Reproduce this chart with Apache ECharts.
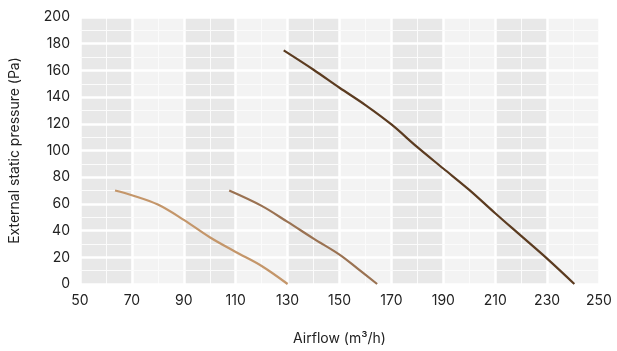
<!DOCTYPE html>
<html>
<head>
<meta charset="utf-8">
<script src="https://cdn.jsdelivr.net/npm/echarts@6/dist/echarts.min.js"></script>
<style>
html,body{margin:0;padding:0;background:#fff;}
#chart{width:617px;height:351px;}
</style>
</head>
<body>
<div id="chart"></div>
<script>
var xTickValues = [50, 70, 90, 110, 130, 150, 170, 190, 210, 230, 250];
var yTickValues = [0, 20, 40, 60, 80, 100, 120, 140, 160, 180, 200];

var series1Airflow = [63.5, 70, 80, 90, 100, 110, 120, 130];
var series1Pressure = [70, 66.5, 59.5, 48, 35, 24, 13.5, 0];

var series2Airflow = [107.5, 120, 130, 140, 150, 157, 164.5];
var series2Pressure = [70, 58.5, 46.5, 34, 22, 11.5, 0];

var series3Airflow = [128.5, 140, 150, 160, 170, 180, 190, 200, 210, 220, 230, 240.5];
var series3Pressure = [175, 160.5, 147, 134, 119.5, 102.5, 86.5, 70.5, 53, 36, 19, 0];

function pairs(xs, ys) { return xs.map(function (x, i) { return [x, ys[i]]; }); }

var chart = echarts.init(document.getElementById('chart'), null, { renderer: 'canvas' });
var font = 'Inter';
function mkSeries(name, xs, ys, color) {
  return {
    name: name, type: 'line', data: pairs(xs, ys), smooth: 0.35,
    showSymbol: false, symbol: 'none',
    lineStyle: { color: color, width: 2.2 }, z: 5
  };
}
chart.setOption({
  animation: false,
  backgroundColor: '#ffffff',
  grid: { left: 80, right: 18, top: 17, bottom: 67, containLabel: false },
  xAxis: {
    type: 'value', min: xTickValues[0], max: xTickValues[xTickValues.length - 1], interval: 20,
    name: 'Airflow (m³/h)', nameLocation: 'middle', nameGap: 48,
    nameTextStyle: { fontFamily: font, fontSize: 14, color: '#222' },
    axisLine: { show: false }, axisTick: { show: false },
    axisLabel: { fontFamily: font, fontSize: 14, color: '#222', margin: 10 },
    splitLine: { show: true, lineStyle: { color: '#ffffff', width: 2.5 } },
    minorTick: { show: false, splitNumber: 2 },
    minorSplitLine: { show: true, lineStyle: { color: '#fbfbfb', width: 1 } },
    splitArea: { show: true, areaStyle: { color: ['#e8e8e8', '#f3f3f3'] } }
  },
  yAxis: {
    type: 'value', min: yTickValues[0], max: yTickValues[yTickValues.length - 1], interval: 20,
    name: 'External static pressure (Pa)', nameLocation: 'middle', nameGap: 58,
    nameTextStyle: { fontFamily: font, fontSize: 14, color: '#222' },
    axisLine: { show: false }, axisTick: { show: false },
    axisLabel: { fontFamily: font, fontSize: 14, color: '#222', margin: 10 },
    splitLine: { show: true, lineStyle: { color: '#ffffff', width: 2.5 } },
    minorTick: { show: false, splitNumber: 2 },
    minorSplitLine: { show: true, lineStyle: { color: '#fbfbfb', width: 1 } },
    z: 2
  },
  series: [
    mkSeries('A', series1Airflow, series1Pressure, '#c4966a'),
    mkSeries('B', series2Airflow, series2Pressure, '#9a7252'),
    mkSeries('C', series3Airflow, series3Pressure, '#5b3b20')
  ]
});
</script>
</body>
</html>
